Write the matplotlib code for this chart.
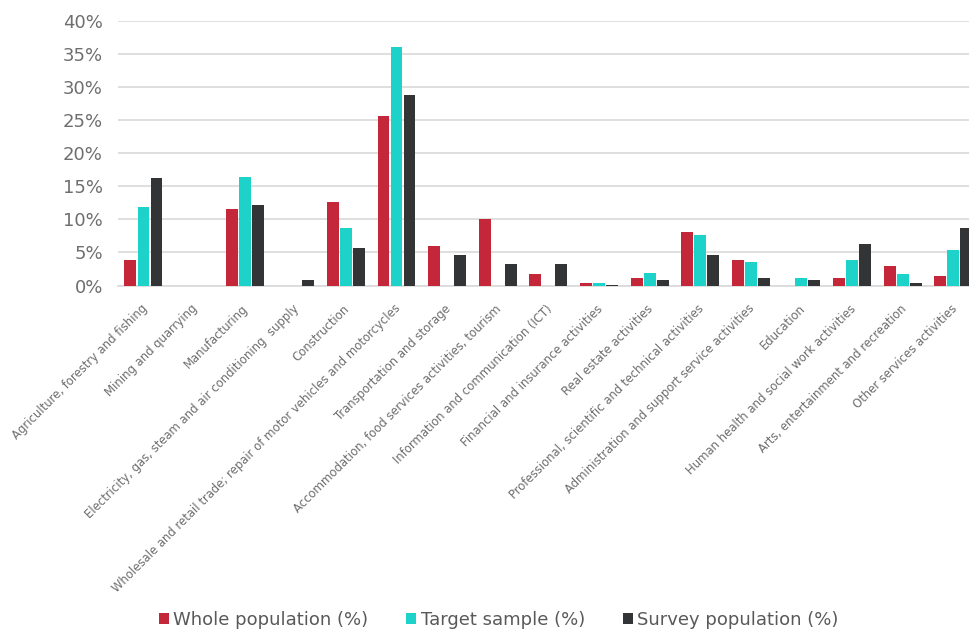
import matplotlib
matplotlib.use("Agg")
import matplotlib.pyplot as plt
from matplotlib.transforms import ScaledTranslation
from matplotlib.ticker import PercentFormatter
import numpy as np

plt.rcParams['font.family'] = ['DejaVu Sans']

categories = [
    "Agriculture, forestry and fishing",
    "Mining and quarrying",
    "Manufacturing",
    "Electricity, gas, steam and air conditioning  supply",
    "Construction",
    "Wholesale and retail trade; repair of motor vehicles and motorcycles",
    "Transportation and storage",
    "Accommodation, food services activities, tourism",
    "Information and communication (ICT)",
    "Financial and insurance activities",
    "Real estate activities",
    "Professional, scientific and technical activities",
    "Administration and support service activities",
    "Education",
    "Human health and social work activities",
    "Arts, entertainment and recreation",
    "Other services activities",
]
whole_population = [3.9, 0, 11.5, 0, 12.6, 25.6, 6.0, 10.1, 1.8, 0.45, 1.2, 8.1, 3.9, 0, 1.2, 2.9, 1.5]
target_sample = [11.9, 0, 16.4, 0, 8.7, 36.0, 0, 0, 0, 0.45, 1.9, 7.7, 3.5, 1.2, 3.9, 1.8, 5.3]
survey_population = [16.3, 0, 12.2, 0.8, 5.65, 28.8, 4.6, 3.2, 3.2, 0.1, 0.8, 4.6, 1.2, 0.8, 6.3, 0.45, 8.7]
series_names = ["Whole population (%)", "Target sample (%)", "Survey population (%)"]
yticks = [0, 5, 10, 15, 20, 25, 30, 35, 40]

colors = ["#C4263A", "#1DD3C9", "#333436"]

fig = plt.figure(figsize=(9.70, 6.31), dpi=100)
ax = fig.add_axes([0.1218, 0.5475, 0.887, 0.4195])

x = np.arange(len(categories))
w = 0.235
step = 0.257
for i, (vals, name, c) in enumerate(zip([whole_population, target_sample, survey_population], series_names, colors)):
    ax.bar(x + (i - 1) * step, vals, width=w, color=c, label=name, zorder=3)

ax.set_xlim(-0.5, len(categories) - 0.5)
ax.set_ylim(0, 40)
ax.set_yticks(yticks)
ax.yaxis.set_major_formatter(PercentFormatter(decimals=0))
ax.grid(axis='y', color='#D9D9D9', linewidth=1.2, zorder=0)
for s in ['top', 'right', 'left']:
    ax.spines[s].set_visible(False)
ax.spines['bottom'].set_color('#D9D9D9')
ax.spines['bottom'].set_linewidth(1.2)
ax.tick_params(axis='y', length=0, pad=11, labelsize=13, labelcolor='#6E6E6E')
ax.tick_params(axis='x', length=0, pad=12)

ax.set_xticks(x)
ax.set_xticklabels(categories, rotation=45, ha='right', rotation_mode='anchor',
                   fontsize=8.4, color='#6E6E6E')
offset = ScaledTranslation(-3 / 100, 0, fig.dpi_scale_trans)
for lab in ax.get_xticklabels():
    lab.set_transform(lab.get_transform() + offset)

fig.legend(loc='center', bbox_to_anchor=(0.514, 0.018), ncol=3, frameon=False,
           fontsize=13, handlelength=0.55, handleheight=0.55, handletextpad=0.25,
           columnspacing=2.1, labelcolor='#595959')

fig.savefig("out.png", dpi=100)
